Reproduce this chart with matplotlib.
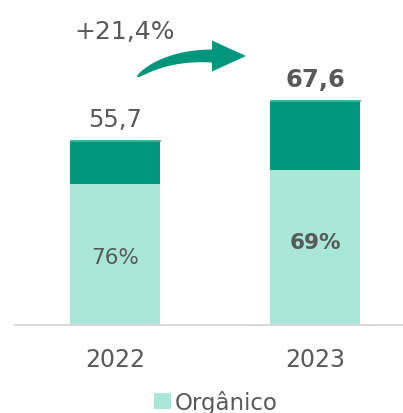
import numpy as np
import matplotlib.pyplot as plt
from matplotlib.patches import Polygon

# Dados
anos = ['2022', '2023']
totais = [55.7, 67.6]
pct_organico = [76, 69]
topo = [0.4, 0.4]  # faixa fina no topo das barras

organico = [t * p / 100 for t, p in zip(totais, pct_organico)]
inorganico = [t - o - s for t, o, s in zip(totais, organico, topo)]

cor_clara = '#A8E6D8'
cor_escura = '#00957D'
cor_texto = '#595959'

W, H = 403, 414
fig = plt.figure(figsize=(W / 100, H / 100), dpi=100)
ax = fig.add_axes([15 / W, 88 / H, 388 / W, 326 / H])

x = [0, 1]
ax.bar(x, organico, width=0.45, color=cor_clara, label='Orgânico')
ax.bar(x, inorganico, width=0.45, bottom=organico, color=cor_escura)
base_topo = [o + i for o, i in zip(organico, inorganico)]
ax.bar(x, topo, width=0.45, bottom=base_topo, color=cor_escura,
       edgecolor='#3FB59E', linewidth=0.6)

ax.set_xlim(-0.5, 1.44)
ax.set_ylim(0, 97.9)

# Rótulos
ax.text(0, totais[0] + 4.2, '55,7', ha='center', va='baseline', fontsize=17.5, color=cor_texto)
ax.text(1, totais[1] + 4.2, '67,6', ha='center', va='baseline', fontsize=17.5,
        color=cor_texto, fontweight='bold')
ax.text(0, organico[0] / 2 - 0.8, f'{pct_organico[0]}%', ha='center', va='center',
        fontsize=15.5, color=cor_texto)
ax.text(1, organico[1] / 2 + 1.5, f'{pct_organico[1]}%', ha='center', va='center',
        fontsize=15.5, color=cor_texto, fontweight='bold')

ax.set_xticks(x)
ax.set_xticklabels(anos, fontsize=17, color=cor_texto)
ax.tick_params(axis='x', length=0, pad=16)
ax.set_yticks([])
for s in ['top', 'right', 'left']:
    ax.spines[s].set_visible(False)
ax.spines['bottom'].set_color('#D9D9D9')
ax.spines['bottom'].set_linewidth(1.5)

# Seta de crescimento (curva afunilada + ponta), em pixels da figura
fig.text(125 / W, 1 - 39 / H, '+21,4%', ha='center', va='baseline',
         fontsize=18, color=cor_texto)
p0 = np.array([137.0, H - 78.0])   # cauda
pc = np.array([166.0, H - 56.0])   # controle
pb = np.array([212.0, H - 57.0])   # base da ponta
tip = np.array([246.0, H - 57.0])
t = np.linspace(0, 1, 60)[:, None]
curva = (1 - t) ** 2 * p0 + 2 * (1 - t) * t * pc + t ** 2 * pb
deriv = 2 * (1 - t) * (pc - p0) + 2 * t * (pb - pc)
normal = np.column_stack([-deriv[:, 1], deriv[:, 0]])
normal /= np.linalg.norm(normal, axis=1)[:, None]
larg = 6.5 * t ** 0.45
sup = curva + normal * larg
inf = curva - normal * larg
pts = np.vstack([inf, [pb[0], pb[1] - 15.5], tip, [pb[0], pb[1] + 15.5], sup[::-1]])
pts = pts / np.array([W, H])
fig.add_artist(Polygon(pts, closed=True, transform=fig.transFigure,
                       facecolor=cor_escura, edgecolor='none'))

leg = fig.legend(loc='center', bbox_to_anchor=(216 / W, 1 - 403 / H), frameon=False,
                 fontsize=16.5, handlelength=0.75, handleheight=0.75, handletextpad=0.15)
for t in leg.get_texts():
    t.set_color(cor_texto)

fig.savefig('out.png', dpi=100)
